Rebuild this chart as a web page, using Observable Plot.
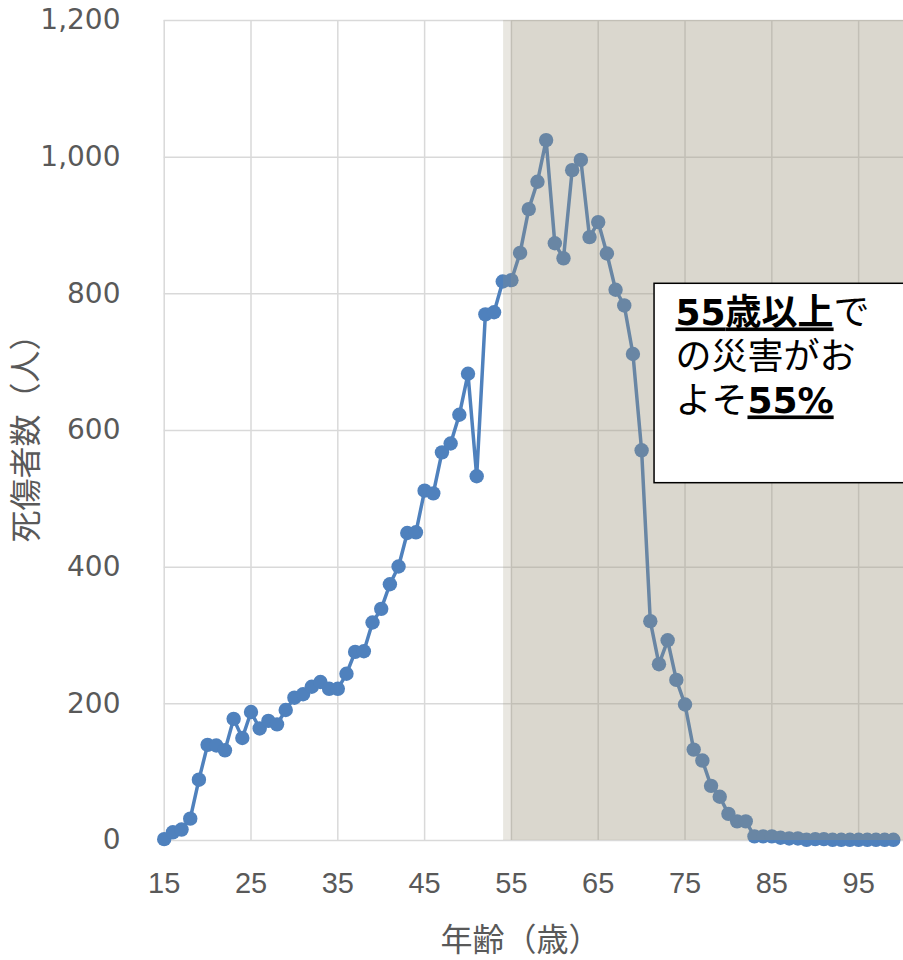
<!DOCTYPE html>
<html>
<head>
<meta charset="utf-8">
<script src="https://cdn.jsdelivr.net/npm/d3@7"></script>
<script src="https://cdn.jsdelivr.net/npm/@observablehq/plot@0.6"></script>
<style>
  html, body { margin: 0; padding: 0; background: #ffffff; }
  #chart { width: 903px; height: 960px; overflow: hidden; }
</style>
</head>
<body>
<div id="chart"></div>
<script>
// ---- data ----
const ages = [15,16,17,18,19,20,21,22,23,24,25,26,27,28,29,30,31,32,33,34,35,36,37,38,39,40,41,42,43,44,45,46,47,48,49,50,51,52,53,54,55,56,57,58,59,60,61,62,63,64,65,66,67,68,69,70,71,72,73,74,75,76,77,78,79,80,81,82,83,84,85,86,87,88,89,90,91,92,93,94,95,96,97,98,99];
const casualties = [2,12,16,32,89,140,139,132,178,150,188,164,175,170,191,209,214,225,232,222,222,244,276,277,319,339,375,401,450,451,512,508,568,581,623,683,533,770,773,818,820,860,924,964,1025,874,852,981,996,883,905,859,806,783,712,571,321,258,293,235,199,133,117,80,64,39,28,28,6,6,6,4,3,3,1,2,2,1,1,1,1,1,1,1,1];
const xTicks = [15,25,35,45,55,65,75,85,95];
const yTicks = [0,200,400,600,800,1000,1200];
const xTitle = "年齢（歳）";
const yTitle = "死傷者数（人）";
const annotationLines = [
  [{t: "55", b: true, latin: true}, {t: "歳以上", b: true}, {t: "で", b: false}],
  [{t: "の災害がお", b: false}],
  [{t: "よそ", b: false}, {t: "55%", b: true, latin: true}]
];

// layout (in data units)
const xDomain = [15, 100.17];
const shadeStrip = [54.1, 55];
const shadeMain = [55, 100.17];
const boxX = [71.49, 101.5];
const boxY = [522.9, 814.7];
const annX = 73.9;
const annBaselines = [753.7, 689.3, 624.9];

const data = ages.map((a, i) => ({age: a, n: casualties[i]}));
const annData = annotationLines.map((segs, i) => ({segs, y: annBaselines[i], text: segs.map(s => s.t).join("")}));

const blue = "#4f81bd";
const grid = "#d9d9d9";
const tickColor = "#595959";
const shadeColor = "rgb(153,145,118)";

const plot = Plot.plot({
  width: 903,
  height: 960,
  marginLeft: 163.7,
  marginRight: 0,
  marginTop: 20,
  marginBottom: 120,
  style: {fontFamily: "DejaVu Sans, sans-serif", background: "white"},
  x: {domain: xDomain, axis: null},
  y: {domain: [0, 1200], axis: null},
  marks: [
    Plot.gridX(xTicks, {stroke: grid, strokeOpacity: 1, strokeWidth: 1.5}),
    Plot.gridY(yTicks, {stroke: grid, strokeOpacity: 1, strokeWidth: 1.5}),
    Plot.line(data, {x: "age", y: "n", stroke: blue, strokeWidth: 3.5}),
    Plot.dot(data, {x: "age", y: "n", r: 7.2, fill: blue, stroke: "none"}),
    Plot.rect([shadeStrip], {x1: d => d[0], x2: d => d[1], y1: 0, y2: 1200, fill: shadeColor, fillOpacity: 0.22}),
    Plot.rect([shadeMain], {x1: d => d[0], x2: d => d[1], y1: 0, y2: 1200, fill: shadeColor, fillOpacity: 0.36}),
    Plot.rect([0], {x1: boxX[0], x2: boxX[1], y1: boxY[0], y2: boxY[1], fill: "white", stroke: "black", strokeWidth: 1.5, clip: true}),
    Plot.text(annData, {x: annX, y: "y", text: "text", textAnchor: "start", lineAnchor: "bottom", fontSize: 36, fontFamily: "Noto Sans CJK JP, sans-serif", fill: "black"}),
    Plot.axisY(yTicks, {tickSize: 0, tickPadding: 43.7, tickFormat: d3.format(","), fontSize: 28, fontFamily: "DejaVu Sans, sans-serif", color: tickColor, label: null}),
    Plot.axisX(xTicks, {tickSize: 0, tickPadding: 32, fontSize: 29, fontFamily: "Liberation Sans Narrow, Arial Narrow, sans-serif", color: tickColor, label: null}),
    Plot.text([xTitle], {x: 56.05, frameAnchor: "bottom", dy: 110, lineAnchor: "bottom", textAnchor: "middle", text: d => d, fontSize: 32, fontFamily: "Noto Sans CJK JP, sans-serif", fill: tickColor}),
    Plot.text([yTitle], {frameAnchor: "left", dx: -137, rotate: -90, textAnchor: "middle", text: d => d, fontSize: 32, fontFamily: "Noto Sans CJK JP, sans-serif", fill: tickColor})
  ]
});

// rebuild annotation lines with mixed bold / underlined segments
const svgNS = "http://www.w3.org/2000/svg";
d3.select(plot).selectAll("text").each(function () {
  const line = annData.find(d => d.text === this.textContent);
  if (!line) return;
  while (this.firstChild) this.removeChild(this.firstChild);
  for (const s of line.segs) {
    const ts = document.createElementNS(svgNS, "tspan");
    ts.textContent = s.t;
    if (s.b) {
      ts.setAttribute("font-weight", "bold");
      ts.setAttribute("text-decoration", "underline");
    }
    if (s.latin) ts.setAttribute("font-family", "DejaVu Sans, sans-serif");
    this.appendChild(ts);
  }
});

document.getElementById("chart").appendChild(plot);
</script>
</body>
</html>
